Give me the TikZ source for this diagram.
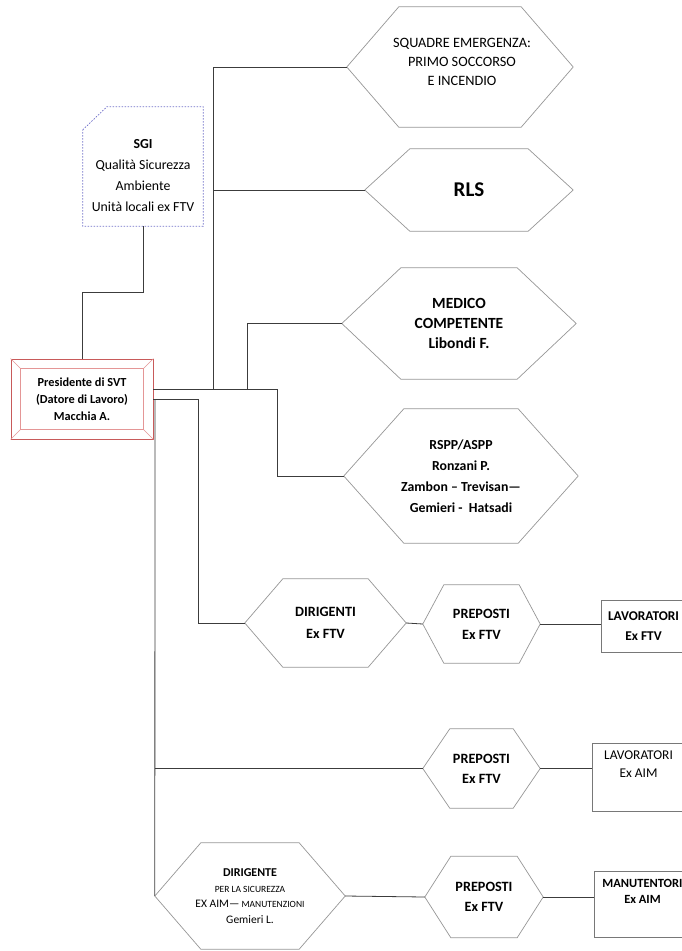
\documentclass[tikz,border=0pt]{standalone}
\usepackage{fontspec}
\setmainfont{Carlito}
\usetikzlibrary{calc}
\definecolor{conncol}{RGB}{60,60,60}
\definecolor{hexcol}{RGB}{150,150,150}
\definecolor{boxcol}{RGB}{120,120,120}
\definecolor{presout}{RGB}{200,90,90}
\definecolor{presin}{RGB}{228,150,150}
\definecolor{sgicol}{RGB}{110,110,200}
\newcommand\hexoutline[2]{\draw[hexline] (#1.west) -- ([xshift=#2pt]#1.north west) -- ([xshift=-#2pt]#1.north east) -- (#1.east) -- ([xshift=-#2pt]#1.south east) -- ([xshift=#2pt]#1.south west) -- cycle;}
\begin{document}
\begin{tikzpicture}[x=1pt,y=-1pt,
  hexnode/.style={draw=none, inner sep=0pt, align=center, text=black},
  conn/.style={draw=conncol, line width=0.8pt},
  hexline/.style={draw=hexcol, line width=0.7pt, line join=miter},
  boxnode/.style={draw=boxcol, line width=0.7pt, inner sep=0pt, align=center},
  txtnode/.style={inner sep=0pt, align=center},
  sgiline/.style={draw=sgicol, line width=0.7pt, dash pattern=on 1.5pt off 1.5pt},
]
\useasboundingbox (0,0) rectangle (682,951);
\clip (0,0) rectangle (682,951);

% SGI
\node[minimum width=120pt, minimum height=119pt, inner sep=0pt] (sgi) at (143,166.5) {};
\draw[sgiline] ([yshift=-23pt]sgi.north west) -- ([xshift=24pt]sgi.north west) -- (sgi.north east) -- (sgi.south east) -- (sgi.south west) -- cycle;
\node[txtnode, font=\fontsize{13.8}{21}\selectfont] (sgit) at (143,175.5) {\textbf{SGI}\\Qualità Sicurezza\\Ambiente\\Unità locali ex FTV};

% Presidente
\node[draw=presout, fill=white, line width=0.8pt, minimum width=142pt, minimum height=80pt, inner sep=0pt, align=center, font=\fontsize{12.3}{17}\selectfont\bfseries] (pres) at (82,399) {Presidente di SVT\\(Datore di Lavoro)\\Macchia A.};
\draw[presin, line width=0.6pt] ([shift={(10pt,-10pt)}]pres.north west) rectangle ([shift={(-10pt,10pt)}]pres.south east);
\draw[presin, line width=0.5pt] (pres.north west) -- ([shift={(10pt,-10pt)}]pres.north west)
  (pres.north east) -- ([shift={(-10pt,-10pt)}]pres.north east)
  (pres.south west) -- ([shift={(10pt,10pt)}]pres.south west)
  (pres.south east) -- ([shift={(-10pt,10pt)}]pres.south east);

% hexagons
\node[hexnode, minimum width=226pt, minimum height=120pt] (squadre) at (460,67) {};
\hexoutline{squadre}{52}
\node[txtnode, font=\fontsize{14.3}{18.7}\selectfont] (squadret) at (462,62) {SQUADRE EMERGENZA:\\PRIMO SOCCORSO\\E INCENDIO};
\node[hexnode, minimum width=208pt, minimum height=82pt, font=\fontsize{21}{25}\selectfont\bfseries] (rls) at (469,190) {RLS};
\hexoutline{rls}{45}
\node[hexnode, minimum width=234pt, minimum height=111pt, font=\fontsize{15.5}{20}\selectfont\bfseries] (medico) at (459,323.5) {MEDICO\\COMPETENTE\\Libondi F.};
\hexoutline{medico}{59}
\node[hexnode, minimum width=234pt, minimum height=134pt, font=\fontsize{13.8}{21}\selectfont\bfseries] (rspp) at (461,476) {RSPP/ASPP\\Ronzani P.\\Zambon – Trevisan—\\Gemieri -~~Hatsadi};
\hexoutline{rspp}{60}
\node[hexnode, minimum width=161pt, minimum height=88pt, font=\fontsize{14.2}{22}\selectfont\bfseries] (dirigenti) at (325.5,623) {DIRIGENTI\\Ex FTV};
\hexoutline{dirigenti}{38}
\node[hexnode, minimum width=117pt, minimum height=78pt, font=\fontsize{14.2}{21}\selectfont\bfseries] (prep1) at (481.5,624) {PREPOSTI\\Ex FTV};
\hexoutline{prep1}{21}
\node[hexnode, minimum width=117pt, minimum height=79pt, font=\fontsize{14.2}{20}\selectfont\bfseries] (prep2) at (481.5,768.5) {PREPOSTI\\Ex FTV};
\hexoutline{prep2}{27}
\node[hexnode, minimum width=118pt, minimum height=81pt, font=\fontsize{14.2}{20}\selectfont\bfseries] (prep3) at (484,897) {PREPOSTI\\Ex FTV};
\hexoutline{prep3}{26}
\node[hexnode, minimum width=190pt, minimum height=106pt, font=\fontsize{11.5}{15.5}\selectfont] (dirigente) at (250,896) {{\fontsize{12}{15.5}\selectfont\bfseries DIRIGENTE}\\{\fontsize{9.5}{15.5}\selectfont PER LA SICUREZZA}\\EX AIM—{\fontsize{9.5}{15.5}\selectfont\ MANUTENZIONI}\\Gemieri L.};
\hexoutline{dirigente}{46}

% boxes on the right
\node[boxnode, minimum width=85pt, minimum height=52pt, font=\fontsize{13.4}{20}\selectfont\bfseries] (lav1) at (643.5,626) {LAVORATORI\\Ex FTV};
\node[boxnode, minimum width=94pt, minimum height=68pt] (lav2) at (639,777) {};
\node[txtnode, font=\fontsize{13.4}{18}\selectfont] (lav2t) at (638.5,764) {LAVORATORI\\Ex AIM};
\node[boxnode, minimum width=92pt, minimum height=66pt] (man) at (640,904) {};
\node[txtnode, font=\fontsize{12.5}{16}\selectfont\bfseries] (mant) at (642.5,891) {MANUTENTORI\\Ex AIM};

% junctions
\coordinate (j1) at (213,389);
\coordinate (j2) at (247,389);
\coordinate (j3) at (277,389);
\coordinate (j4) at (213,190);
\coordinate (j5) at (198,399);
\coordinate (j6) at (155,399);
\coordinate (j7) at (155,768.5);

% connectors
\draw[conn] (sgi.south) -- ++(0,66) -| (pres.north);
\draw[conn] ([yshift=10pt]pres.east) -- (j3) |- (rspp.west);
\draw[conn] (j1) |- (squadre.west);
\draw[conn] (j4) -- (rls.west);
\draw[conn] (j2) |- (medico.west);
\draw[conn] (pres.east) -- (j5) |- (dirigenti.west);
\draw[conn] (j6) -- (dirigente.west);
\draw[conn] (j7) -- (prep2.west);
\draw[conn] (dirigenti.east) -- (prep1.west);
\draw[conn] (prep1.east) -- (prep1.east -| lav1.west);
\draw[conn] (prep2.east) -- (prep2.east -| lav2.west);
\draw[conn] (dirigente.east) -- (prep3.west);
\draw[conn] (prep3.east) -- (prep3.east -| man.west);
\end{tikzpicture}
\end{document}
